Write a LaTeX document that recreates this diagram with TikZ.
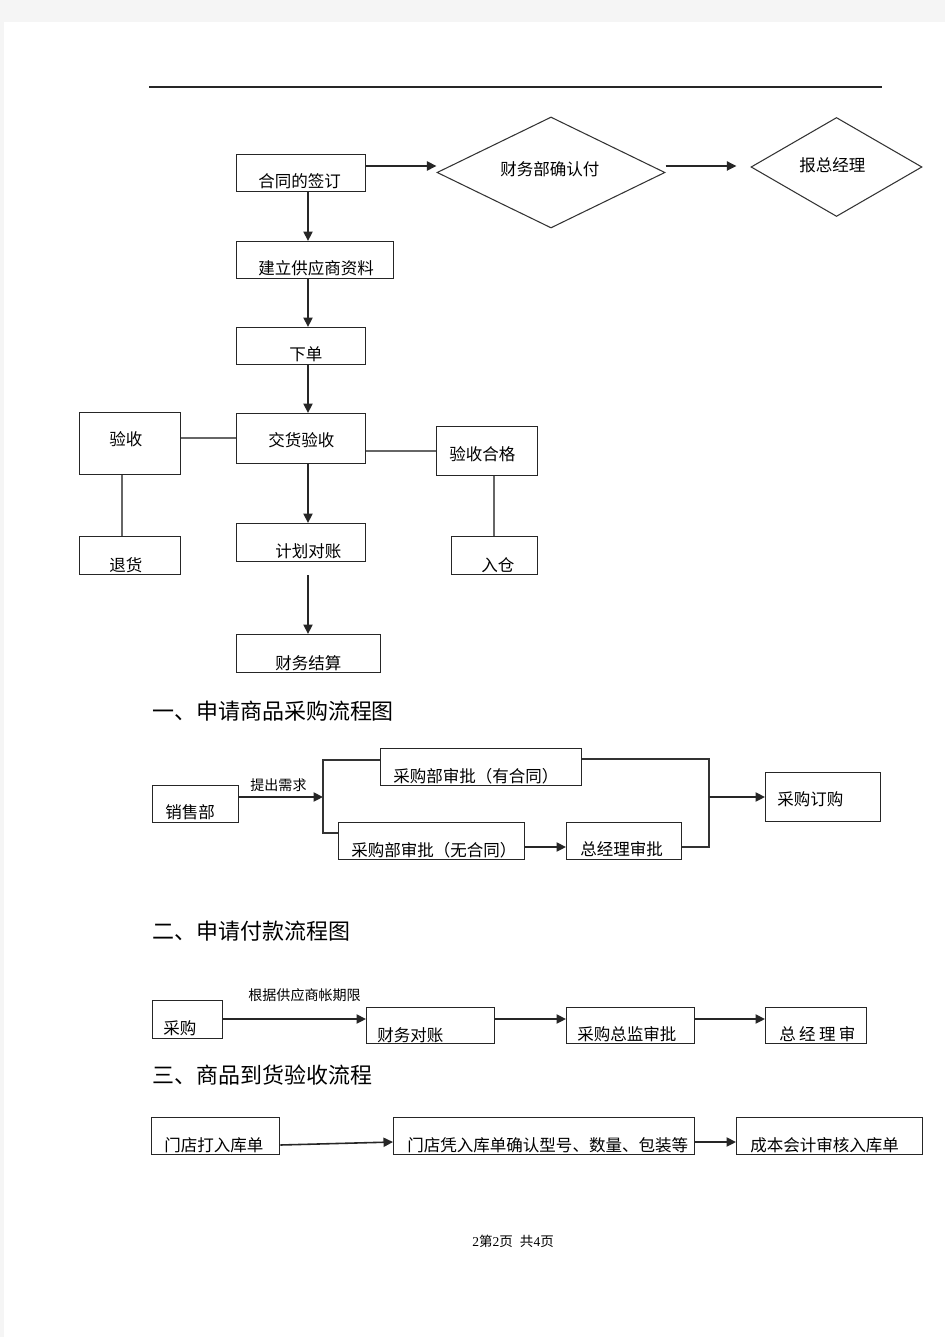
\documentclass[tikz,border=0pt]{standalone}
\usepackage{fontspec}
\newfontfamily\cjk{Noto Sans CJK SC}
\newfontfamily\numfont{Liberation Serif}
\usetikzlibrary{shapes.geometric,arrows.meta}

\tikzset{
  box/.style={draw=black!85, line width=0.8pt, rectangle, inner sep=0pt, anchor=north west},
  wh/.style 2 args={minimum width=#1*0.02cm, minimum height=#2*0.02cm},
  dia/.style={draw=black!80, line width=0.6pt, diamond, inner sep=0pt},
  txt/.style={inner sep=0pt, anchor=base west, font=\cjk\fontsize{9.4pt}{11pt}\selectfont},
  lbl/.style={inner sep=0pt, anchor=base west, font=\cjk\fontsize{8pt}{10pt}\selectfont},
  head/.style={inner sep=0pt, anchor=base west, font=\cjk\fontsize{12.5pt}{15pt}\selectfont},
  foot/.style={inner sep=0pt, anchor=base west, font=\cjk\fontsize{7.7pt}{9pt}\selectfont},
  arr/.style={-{Triangle[length=5.4pt,width=5.2pt]}, line width=0.9pt, black!85},
  ln/.style={line width=0.9pt, black!80},
  lnk/.style={line width=0.75pt, black!60}
}

\begin{document}
\begin{tikzpicture}[x=0.02cm, y=-0.02cm]
				% page
				\fill[black!4] (0,0) rectangle (945,1337);
				\fill[white] (4,22) rectangle (945,1337);
				\useasboundingbox (0,0) rectangle (945,1337);
				\draw[line width=0.9pt, black!85] (149,87) -- (882,87);
				% top chart boxes
				\node[box, wh={129}{37}] (ht) at (236,154) {};
				\node[box, wh={157}{37}] (gys) at (236,241) {};
				\node[box, wh={129}{37}] (xd) at (236,327) {};
				\node[box, wh={129}{50}] (jh) at (236,413) {};
				\node[box, wh={101}{62}] (ys) at (79,412) {};
				\node[box, wh={101}{38}] (th) at (79,536) {};
				\node[box, wh={101}{49}] (hg) at (436,426) {};
				\node[box, wh={86}{38}] (rc) at (451,536) {};
				\node[box, wh={129}{38}] (dz) at (236,523) {};
				\node[box, wh={144}{38}] (js) at (236,634) {};
				\node[dia, minimum width=228*0.02cm, minimum height=111*0.02cm] (qr) at (551,172.5) {};
				\node[dia, minimum width=171*0.02cm, minimum height=99*0.02cm] (bz) at (836.5,167) {};
				% top chart texts
				\node[txt] (htl) at (258,188) {合同的签订};
				\node[txt] (gysl) at (258,275) {建立供应商资料};
				\node[txt] (xdl) at (289,361) {下单};
				\node[txt] (jhl) at (268,447) {交货验收};
				\node[txt] (ysl) at (109,446) {验收};
				\node[txt] (thl) at (109,571) {退货};
				\node[txt] (hgl) at (449,460) {验收合格};
				\node[txt] (rcl) at (481,571) {入仓};
				\node[txt] (dzl) at (275,557) {计划对账};
				\node[txt] (jsl) at (275,669) {财务结算};
				\node[txt] (qrl) at (500,176) {财务部确认付};
				\node[txt] (bzl) at (799,172) {报总经理};
				% top chart edges
				\coordinate (r0) at (0,166);
				\coordinate (c0) at (308,0);
				\draw[arr] (ht.east |- r0) -- (qr.west |- r0);
				\draw[arr, shorten >=8pt] (qr.east |- r0) -- (bz.west |- r0);
				\draw[arr] (ht.south -| c0) -- (gys.north -| c0);
				\draw[arr] (gys.south -| c0) -- (xd.north -| c0);
				\draw[arr] (xd.south -| c0) -- (jh.north -| c0);
				\draw[arr] (jh.south -| c0) -- (dz.north -| c0);
				\draw[arr, shorten <=7.4pt] (dz.south -| c0) -- (js.north -| c0);
				\coordinate (r1) at (0,438);
				\coordinate (r2) at (0,451);
				\coordinate (c1) at (122,0);
				\coordinate (c2) at (494,0);
				\draw[lnk] (ys.east |- r1) -- (jh.west |- r1);
				\draw[lnk] (ys.south -| c1) -- (th.north -| c1);
				\draw[lnk] (jh.east |- r2) -- (hg.west |- r2);
				\draw[lnk] (hg.south -| c2) -- (rc.north -| c2);
				% headings
				\node[head] (h1) at (152,719) {一、申请商品采购流程图};
				\node[head] (h2) at (152,939) {二、申请付款流程图};
				\node[head] (h3) at (152,1083) {三、商品到货验收流程};
				% chart one
				\node[box, wh={86}{37}] (xs) at (152,785) {};
				\node[box, wh={201}{37}] (yht) at (380,748) {};
				\node[box, wh={186}{37}] (wht) at (338,822) {};
				\node[box, wh={115}{37}] (zsp) at (566,822) {};
				\node[box, wh={115}{49}] (dg) at (765,772) {};
				\node[txt] (xsl) at (165,818) {销售部};
				\node[txt] (yhtl) at (393,782) {采购部审批（有合同）};
				\node[txt] (whtl) at (351,856) {采购部审批（无合同）};
				\node[txt] (zspl) at (580,855) {总经理审批};
				\node[txt] (dgl) at (777,805) {采购订购};
				\node[lbl] (tcl) at (250,790) {提出需求};
				\coordinate (b1) at (323,797);
				\coordinate (b2) at (709,797);
				\coordinate (r3) at (0,760);
				\coordinate (r4) at (0,833);
				\coordinate (r5) at (0,847);
				\coordinate (r6) at (0,759);
				\draw[arr] (xs.east |- b1) -- (b1);
				\draw[ln] (yht.west |- r3) -| (b1) |- (wht.west |- r4);
				\draw[arr] (wht.east |- r5) -- (zsp.west |- r5);
				\draw[ln] (yht.east |- r6) -| (b2) |- (zsp.east |- r5);
				\draw[arr] (b2) -- (dg.west |- b2);
				% chart two
				\node[box, wh={70}{38}] (cg) at (152,1000) {};
				\node[box, wh={128}{36}] (cwdz) at (366,1007) {};
				\node[box, wh={128}{36}] (zj) at (566,1007) {};
				\node[box, wh={101}{36}] (zjs) at (765,1007) {};
				\node[txt] (cgl) at (163,1034) {采购};
				\node[txt] (cwdzl) at (377,1041) {财务对账};
				\node[txt] (zjl) at (577,1040) {采购总监审批};
				\node[txt] (zjsl) at (779,1040) {总\hspace{1.9pt}经\hspace{1.9pt}理\hspace{1.9pt}审};
				\node[lbl] (zql) at (248,1000) {根据供应商帐期限};
				\coordinate (r7) at (0,1019);
				\draw[arr] (cg.east |- r7) -- (cwdz.west |- r7);
				\draw[arr] (cwdz.east |- r7) -- (zj.west |- r7);
				\draw[arr] (zj.east |- r7) -- (zjs.west |- r7);
				% chart three
				\node[box, wh={128}{37}] (rk) at (151,1117) {};
				\node[box, wh={301}{37}] (qrk) at (393,1117) {};
				\node[box, wh={186}{37}] (hs) at (736,1117) {};
				\node[txt] (rkl) at (164,1151) {门店打入库单};
				\node[txt] (qrkl) at (407,1151) {门店凭入库单确认型号、数量、包装等};
				\node[txt] (hsl) at (750,1151) {成本会计审核入库单};
				\coordinate (r8) at (0,1145);
				\coordinate (r9) at (0,1142);
				\draw[arr] (rk.east |- r8) -- (qrk.west |- r9);
				\draw[arr] (qrk.east |- r9) -- (hs.west |- r9);
				% page number
				\node[foot] (pg) at (472,1246) {{\numfont 2}第{\numfont 2}页\hspace{4pt}共{\numfont 4}页};
\end{tikzpicture}
\end{document}
